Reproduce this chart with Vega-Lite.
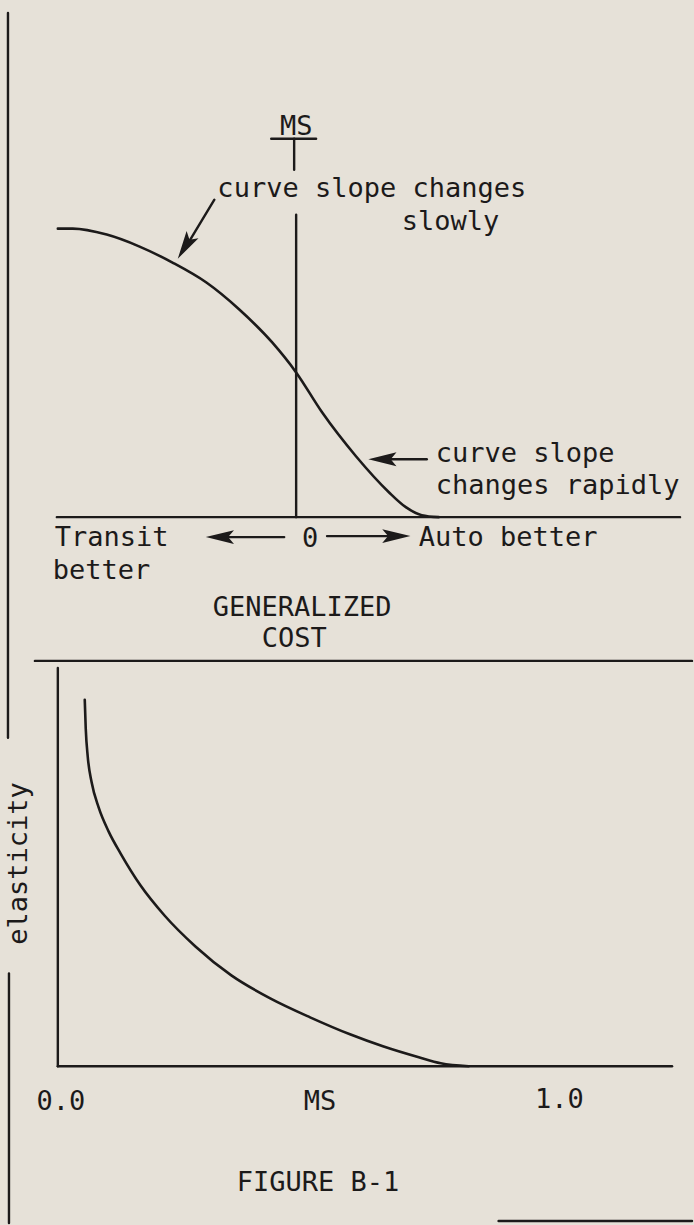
{
  "$schema": "https://vega.github.io/schema/vega-lite/v6.json",
  "width": 694,
  "height": 1225,
  "autosize": {"type": "fit", "contains": "padding"},
  "padding": 0,
  "background": "#e6e1d8",
  "config": {"view": {"stroke": null}},
  "datasets": {
    "segments": [
      {"part": "outer left top", "x": 8, "y": 13, "x2": 8, "y2": 739},
      {"part": "outer left bottom", "x": 9, "y": 975, "x2": 9, "y2": 1225},
      {"part": "MS bar", "x": 272, "y": 139, "x2": 317, "y2": 139},
      {"part": "MS stem", "x": 295, "y": 139, "x2": 295, "y2": 170},
      {"part": "zero line", "x": 297, "y": 215, "x2": 297, "y2": 518},
      {"part": "cost axis", "x": 57, "y": 518, "x2": 682, "y2": 518},
      {"part": "divider", "x": 35, "y": 662, "x2": 694, "y2": 662},
      {"part": "elasticity axis", "x": 58, "y": 669, "x2": 58, "y2": 1068},
      {"part": "MS axis", "x": 58, "y": 1068, "x2": 674, "y2": 1068},
      {"part": "bottom edge", "x": 500, "y": 1223, "x2": 694, "y2": 1223},
      {"part": "slow arrow", "x": 215, "y": 200, "x2": 189, "y2": 243},
      {"part": "rapid arrow", "x": 428, "y": 460, "x2": 388, "y2": 460},
      {"part": "transit arrow", "x": 285, "y": 538, "x2": 225, "y2": 538},
      {"part": "auto arrow", "x": 328, "y": 537, "x2": 393, "y2": 537}
    ],
    "curves": [
      {"curve": "share", "i": 0, "x": 58, "y": 229},
      {"curve": "share", "i": 1, "x": 73, "y": 229},
      {"curve": "share", "i": 2, "x": 107, "y": 235},
      {"curve": "share", "i": 3, "x": 140, "y": 247},
      {"curve": "share", "i": 4, "x": 173, "y": 263},
      {"curve": "share", "i": 5, "x": 207, "y": 283},
      {"curve": "share", "i": 6, "x": 240, "y": 310},
      {"curve": "share", "i": 7, "x": 273, "y": 343},
      {"curve": "share", "i": 8, "x": 297, "y": 373},
      {"curve": "share", "i": 9, "x": 323, "y": 413},
      {"curve": "share", "i": 10, "x": 357, "y": 457},
      {"curve": "share", "i": 11, "x": 390, "y": 493},
      {"curve": "share", "i": 12, "x": 407, "y": 508},
      {"curve": "share", "i": 13, "x": 423, "y": 516},
      {"curve": "share", "i": 14, "x": 440, "y": 518},
      {"curve": "elasticity", "i": 0, "x": 85, "y": 701},
      {"curve": "elasticity", "i": 1, "x": 86, "y": 730},
      {"curve": "elasticity", "i": 2, "x": 88, "y": 758},
      {"curve": "elasticity", "i": 3, "x": 92, "y": 784},
      {"curve": "elasticity", "i": 4, "x": 99, "y": 809},
      {"curve": "elasticity", "i": 5, "x": 109, "y": 833},
      {"curve": "elasticity", "i": 6, "x": 121, "y": 855},
      {"curve": "elasticity", "i": 7, "x": 141, "y": 887},
      {"curve": "elasticity", "i": 8, "x": 165, "y": 917},
      {"curve": "elasticity", "i": 9, "x": 196, "y": 948},
      {"curve": "elasticity", "i": 10, "x": 232, "y": 977},
      {"curve": "elasticity", "i": 11, "x": 271, "y": 1000},
      {"curve": "elasticity", "i": 12, "x": 311, "y": 1019},
      {"curve": "elasticity", "i": 13, "x": 351, "y": 1036},
      {"curve": "elasticity", "i": 14, "x": 384, "y": 1048},
      {"curve": "elasticity", "i": 15, "x": 420, "y": 1059},
      {"curve": "elasticity", "i": 16, "x": 442, "y": 1065},
      {"curve": "elasticity", "i": 17, "x": 470, "y": 1068}
    ],
    "arrowheads": [
      {"arrow": "slow", "x": 187, "y": 245, "heading": 211.6},
      {"arrow": "rapid", "x": 386, "y": 460, "heading": 270},
      {"arrow": "transit", "x": 223, "y": 538, "heading": 270},
      {"arrow": "auto", "x": 395, "y": 537, "heading": 90}
    ],
    "labels": [
      {"text": "MS", "x": 297, "y": 135, "anchor": "middle"},
      {"text": "curve slope changes", "x": 218, "y": 197, "anchor": "start"},
      {"text": "slowly", "x": 403, "y": 230, "anchor": "start"},
      {"text": "curve slope", "x": 437, "y": 463, "anchor": "start"},
      {"text": "changes rapidly", "x": 437, "y": 495, "anchor": "start"},
      {"text": "Transit", "x": 55, "y": 547, "anchor": "start"},
      {"text": "better", "x": 53, "y": 580, "anchor": "start"},
      {"text": "0", "x": 311, "y": 548, "anchor": "middle"},
      {"text": "Auto better", "x": 420, "y": 547, "anchor": "start"},
      {"text": "GENERALIZED", "x": 303, "y": 617, "anchor": "middle"},
      {"text": "COST", "x": 295, "y": 648, "anchor": "middle"},
      {"text": "0.0", "x": 61, "y": 1112, "anchor": "middle"},
      {"text": "MS", "x": 321, "y": 1112, "anchor": "middle"},
      {"text": "1.0", "x": 561, "y": 1110, "anchor": "middle"},
      {"text": "FIGURE B-1", "x": 319, "y": 1193, "anchor": "middle"}
    ],
    "vlabels": [
      {"text": "elasticity", "x": 27, "y": 865}
    ]
  },
  "encoding": {
    "x": {"field": "x", "type": "quantitative", "scale": {"domain": [0, 694], "nice": false, "zero": false}, "axis": null},
    "y": {"field": "y", "type": "quantitative", "scale": {"domain": [0, 1225], "reverse": true, "nice": false, "zero": false}, "axis": null}
  },
  "layer": [
    {
      "data": {"name": "segments"},
      "mark": {"type": "rule", "color": "#1c1a1a", "strokeWidth": 2.4, "strokeCap": "round"},
      "encoding": {"x2": {"field": "x2"}, "y2": {"field": "y2"}}
    },
    {
      "data": {"name": "curves"},
      "mark": {"type": "line", "color": "#1c1a1a", "strokeWidth": 2.6, "interpolate": "monotone", "strokeCap": "round"},
      "encoding": {
        "detail": {"field": "curve", "type": "nominal"},
        "order": {"field": "i", "type": "quantitative"}
      }
    },
    {
      "data": {"name": "arrowheads"},
      "mark": {"type": "point", "shape": "M0,-1L0.42,0.7L0,0.35L-0.42,0.7Z", "filled": true, "color": "#1c1a1a", "opacity": 1, "size": 1100},
      "encoding": {
        "angle": {"field": "heading", "type": "quantitative", "scale": null}
      }
    },
    {
      "data": {"name": "labels"},
      "transform": [{"filter": "datum.anchor === 'start'"}],
      "mark": {"type": "text", "font": "DejaVu Sans Mono", "fontSize": 27, "color": "#1c1a1a", "align": "left", "baseline": "alphabetic"},
      "encoding": {"text": {"field": "text"}}
    },
    {
      "data": {"name": "labels"},
      "transform": [{"filter": "datum.anchor === 'middle'"}],
      "mark": {"type": "text", "font": "DejaVu Sans Mono", "fontSize": 27, "color": "#1c1a1a", "align": "center", "baseline": "alphabetic"},
      "encoding": {"text": {"field": "text"}}
    },
    {
      "data": {"name": "vlabels"},
      "mark": {"type": "text", "font": "DejaVu Sans Mono", "fontSize": 27, "color": "#1c1a1a", "align": "center", "baseline": "alphabetic", "angle": 270},
      "encoding": {"text": {"field": "text"}}
    }
  ]
}
